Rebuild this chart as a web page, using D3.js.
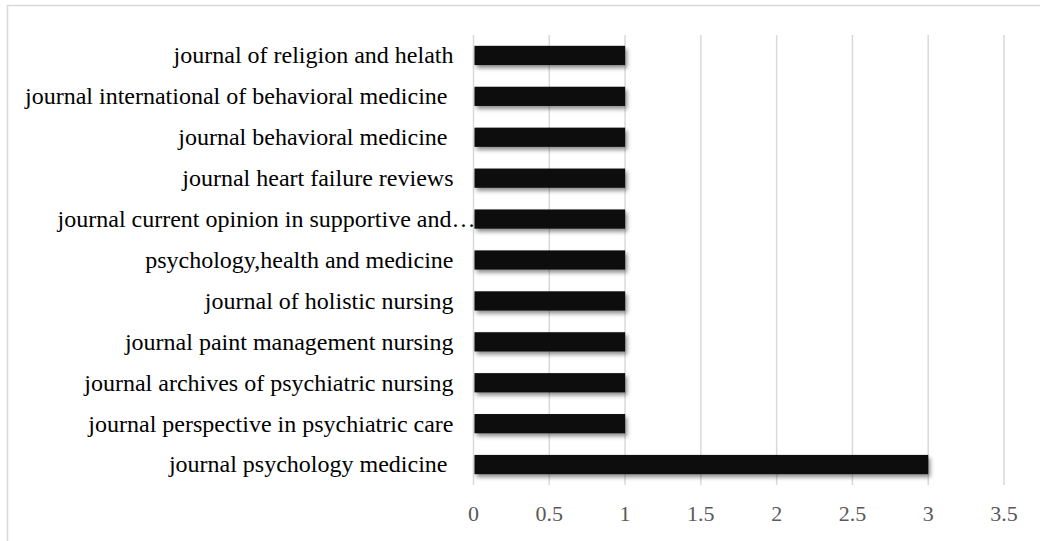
<!DOCTYPE html>
<html>
<head>
<meta charset="utf-8">
<script src="https://cdn.jsdelivr.net/npm/d3@7"></script>
<style>
  body { margin: 0; background: #fff; }
  svg text { white-space: pre; }
</style>
</head>
<body>
<div id="chart"></div>
<script>
var journals = [
  "journal of religion and helath",
  "journal international of behavioral medicine ",
  "journal behavioral medicine ",
  "journal heart failure reviews",
  "journal current opinion in supportive and\u2026",
  "psychology,health and medicine",
  "journal of holistic nursing",
  "journal paint management nursing",
  "journal archives of psychiatric nursing",
  "journal perspective in psychiatric care",
  "journal psychology medicine "
];
var counts = [1, 1, 1, 1, 1, 1, 1, 1, 1, 1, 3];
var xTicks = [0, 0.5, 1, 1.5, 2, 2.5, 3, 3.5];

const width = 1040;
const height = 541;
const margin = {left: 473.5, right: 36, top: 35, bottom: 56};

let svg = d3.select("#chart")
  .append("svg")
  .attr("width", width)
  .attr("height", height);

// drop shadow for bars
let defs = svg.append("defs");
let shadow = defs.append("filter")
  .attr("id", "shadow")
  .attr("x", "-10%").attr("y", "-50%")
  .attr("width", "120%").attr("height", "220%");
shadow.append("feDropShadow")
  .attr("dx", 2)
  .attr("dy", 3)
  .attr("stdDeviation", 2)
  .attr("flood-color", "#000")
  .attr("flood-opacity", 0.45);

// outer frame
svg.append("rect")
  .attr("x", 7.5)
  .attr("y", 5.5)
  .attr("width", 1200)
  .attr("height", 700)
  .attr("fill", "none")
  .attr("stroke", "#d9d9d9")
  .attr("stroke-width", 1.5);

let x = d3.scaleLinear()
  .domain([0, 3.5])
  .range([margin.left, width - margin.right]);

let y = d3.scaleBand()
  .domain(journals)
  .range([margin.top, height - margin.bottom])
  .paddingInner(0.53)
  .paddingOuter(0.265);

// gridlines
svg.append("g")
  .selectAll("line")
  .data(xTicks)
  .enter()
  .append("line")
  .attr("x1", d => x(d))
  .attr("x2", d => x(d))
  .attr("y1", margin.top)
  .attr("y2", height - margin.bottom)
  .attr("stroke", "#d9d9d9")
  .attr("stroke-width", 1.5);

// bars
svg.append("g")
  .selectAll("rect")
  .data(counts)
  .enter()
  .append("rect")
  .attr("x", x(0) + 1)
  .attr("y", (d, i) => y(journals[i]))
  .attr("width", d => x(d) - x(0) - 1)
  .attr("height", y.bandwidth())
  .attr("fill", "#0d0d0d")
  .attr("filter", "url(#shadow)");

// category labels
svg.append("g")
  .selectAll("text")
  .data(journals)
  .enter()
  .append("text")
  .attr("x", d => d.endsWith("\u2026") ? x(0) + 2 : x(0) - 20)
  .attr("y", d => y(d) + y.bandwidth() / 2)
  .attr("dy", "0.33em")
  .attr("text-anchor", "end")
  .attr("font-family", "'Liberation Serif', 'Times New Roman', serif")
  .attr("font-size", "24px")
  .attr("fill", "#000")
  .text(d => d);

// x tick labels
svg.append("g")
  .selectAll("text")
  .data(xTicks)
  .enter()
  .append("text")
  .attr("x", d => x(d))
  .attr("y", 521)
  .attr("text-anchor", "middle")
  .attr("font-family", "'Liberation Serif', 'Times New Roman', serif")
  .attr("font-size", "22px")
  .attr("fill", "#595959")
  .text(d => d);
</script>
</body>
</html>
